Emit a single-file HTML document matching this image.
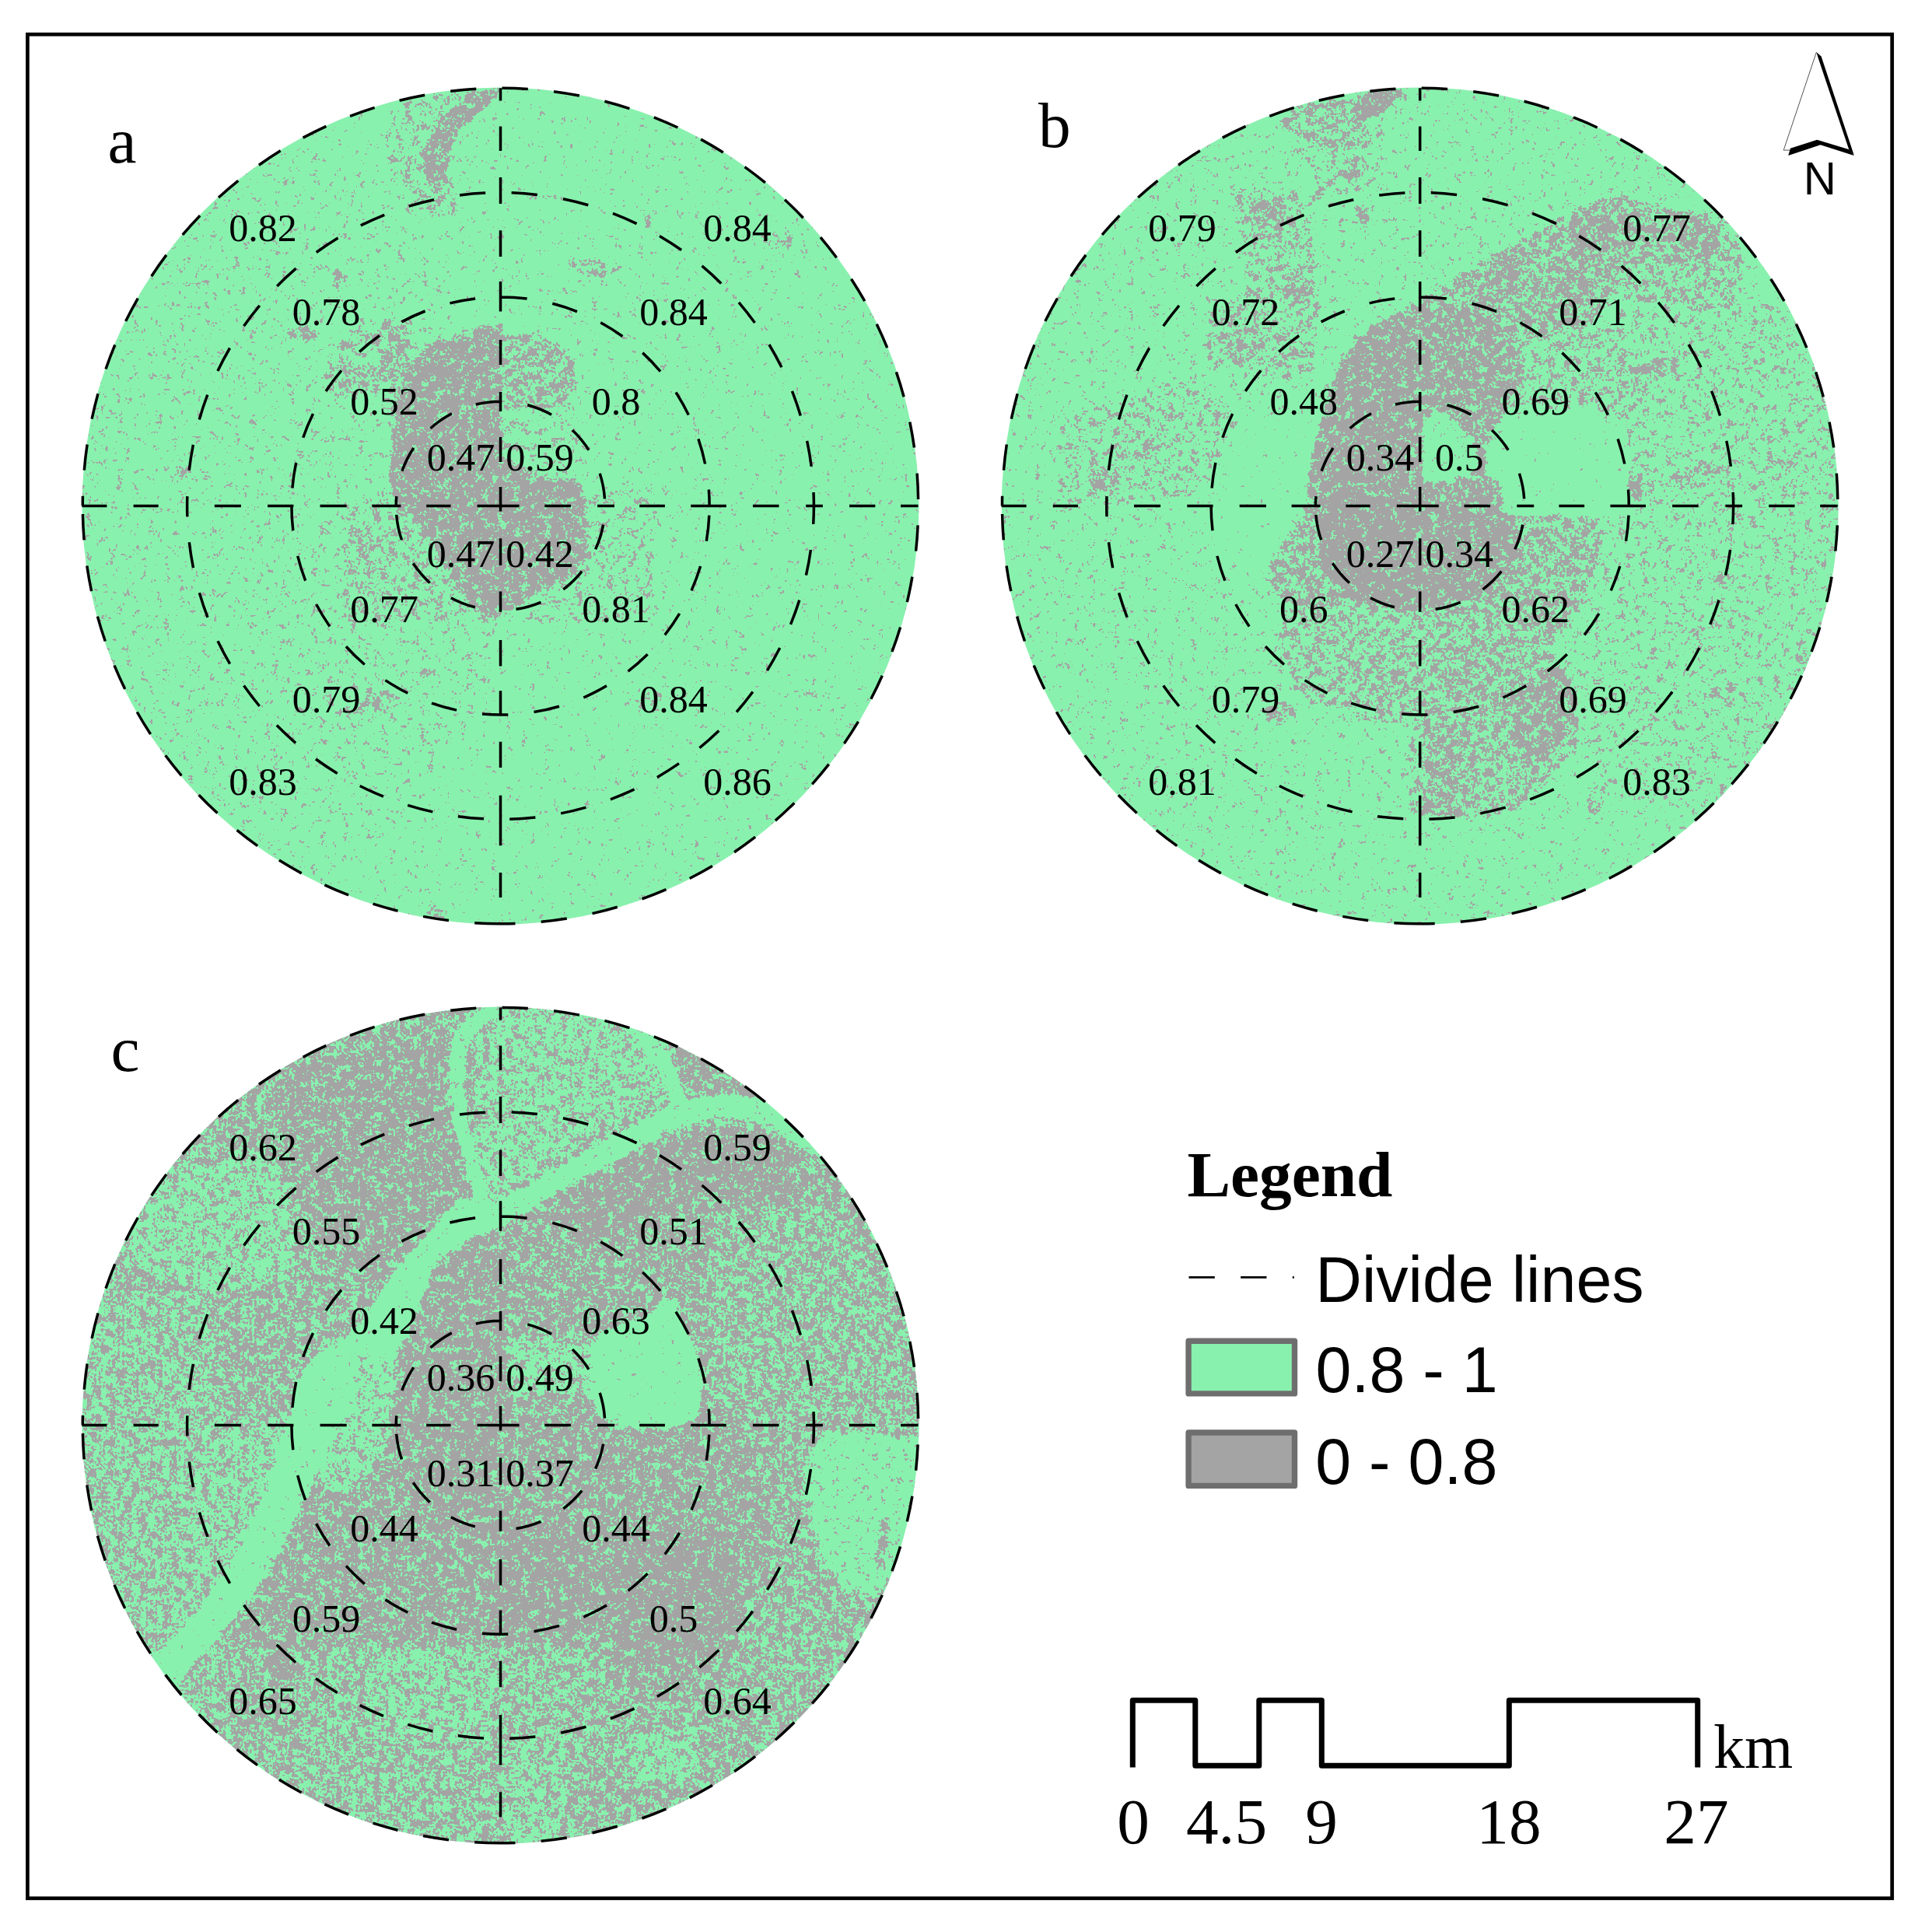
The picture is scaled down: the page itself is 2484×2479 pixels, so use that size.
<!DOCTYPE html>
<html lang="en"><head><meta charset="utf-8"><title>Index maps</title>
<style>html,body{margin:0;padding:0;background:#fff}svg{display:block}</style></head><body>
<svg width="2484" height="2479" viewBox="0 0 2484 2479">
<defs>
<clipPath id="cpa"><circle cx="643.5" cy="650.5" r="538.0"/></clipPath>
<filter id="fa" filterUnits="userSpaceOnUse" x="101.5" y="108.5" width="1084.0" height="1084.0" color-interpolation-filters="sRGB"><feGaussianBlur in="SourceGraphic" stdDeviation="2.2" result="b"/><feTurbulence type="fractalNoise" baseFrequency="0.33" numOctaves="1" seed="3" result="n1"/><feTurbulence type="fractalNoise" baseFrequency="0.1" numOctaves="2" seed="8" result="n2"/><feComposite in="n1" in2="n2" operator="arithmetic" k1="0" k2="0.5" k3="0.5" k4="0" result="n"/><feColorMatrix in="n" type="matrix" values="0 0 0 1 0  0 0 0 1 0  0 0 0 1 0  0 0 0 0 1" result="no"/><feComposite in="b" in2="no" operator="arithmetic" k1="0" k2="1" k3="1" k4="-1" result="s"/><feColorMatrix in="s" type="matrix" values="0 0 0 0 0.643  0 0 0 0 0.643  0 0 0 0 0.643  255 0 0 0 0"/></filter>
<clipPath id="cpb"><circle cx="1825.7" cy="650.5" r="538.0"/></clipPath>
<filter id="fb" filterUnits="userSpaceOnUse" x="1283.7" y="108.5" width="1084.0" height="1084.0" color-interpolation-filters="sRGB"><feGaussianBlur in="SourceGraphic" stdDeviation="2.2" result="b"/><feTurbulence type="fractalNoise" baseFrequency="0.33" numOctaves="1" seed="11" result="n1"/><feTurbulence type="fractalNoise" baseFrequency="0.1" numOctaves="2" seed="16" result="n2"/><feComposite in="n1" in2="n2" operator="arithmetic" k1="0" k2="0.5" k3="0.5" k4="0" result="n"/><feColorMatrix in="n" type="matrix" values="0 0 0 1 0  0 0 0 1 0  0 0 0 1 0  0 0 0 0 1" result="no"/><feComposite in="b" in2="no" operator="arithmetic" k1="0" k2="1" k3="1" k4="-1" result="s"/><feColorMatrix in="s" type="matrix" values="0 0 0 0 0.643  0 0 0 0 0.643  0 0 0 0 0.643  255 0 0 0 0"/></filter>
<clipPath id="cpc"><circle cx="643.5" cy="1832.6" r="538.0"/></clipPath>
<filter id="fc" filterUnits="userSpaceOnUse" x="101.5" y="1290.6" width="1084.0" height="1084.0" color-interpolation-filters="sRGB"><feGaussianBlur in="SourceGraphic" stdDeviation="2.2" result="b"/><feTurbulence type="fractalNoise" baseFrequency="0.33" numOctaves="1" seed="23" result="n1"/><feTurbulence type="fractalNoise" baseFrequency="0.1" numOctaves="2" seed="28" result="n2"/><feComposite in="n1" in2="n2" operator="arithmetic" k1="0" k2="0.5" k3="0.5" k4="0" result="n"/><feColorMatrix in="n" type="matrix" values="0 0 0 1 0  0 0 0 1 0  0 0 0 1 0  0 0 0 0 1" result="no"/><feComposite in="b" in2="no" operator="arithmetic" k1="0" k2="1" k3="1" k4="-1" result="s"/><feColorMatrix in="s" type="matrix" values="0 0 0 0 0.643  0 0 0 0 0.643  0 0 0 0 0.643  255 0 0 0 0"/></filter>
<path id="grid" d="M0 -134.3A134.3 134.3 0 0 1 1.9 -134.3M34.8 -129.7A134.3 134.3 0 0 1 65.6 -117.2M92.4 -97.5A134.3 134.3 0 0 1 113.5 -71.8M127.7 -41.7A134.3 134.3 0 0 1 134 -9.1M132.1 24.1A134.3 134.3 0 0 1 122.1 55.8M104.7 84.1A134.3 134.3 0 0 1 80.8 107.3M52 123.8A134.3 134.3 0 0 1 20 132.8M-32.7 130.3A134.3 134.3 0 0 1 -63.7 118.2M-90.8 99A134.3 134.3 0 0 1 -112.3 73.7M-127 43.8A134.3 134.3 0 0 1 -133.8 11.3M-134.3 0A134.3 134.3 0 0 1 -133.7 -12.3M-126.6 -44.8A134.3 134.3 0 0 1 -111.7 -74.5M-90 -99.7A134.3 134.3 0 0 1 -62.7 -118.7M-31.7 -130.5A134.3 134.3 0 0 1 -0 -134.3M-267.6 -22.8A268.6 268.6 0 0 1 -262.8 -55.7M-253.8 -87.8A268.6 268.6 0 0 1 -241 -118.6M-224.5 -147.5A268.6 268.6 0 0 1 -204.5 -174.1M-181.4 -198.1A268.6 268.6 0 0 1 -155.5 -219M-127.1 -236.6A268.6 268.6 0 0 1 -96.9 -250.5M-65.1 -260.6A268.6 268.6 0 0 1 -32.4 -266.6M0.9 -268.6A268.6 268.6 0 0 1 34.1 -266.4M66.8 -260.2A268.6 268.6 0 0 1 98.5 -249.9M128.7 -235.8A268.6 268.6 0 0 1 156.9 -218M182.7 -196.9A268.6 268.6 0 0 1 205.6 -172.8M225.5 -146A268.6 268.6 0 0 1 241.8 -117M254.4 -86.1A268.6 268.6 0 0 1 263.1 -54M267.8 -21A268.6 268.6 0 0 1 268.6 -0M268.3 12.1A268.6 268.6 0 0 1 264.8 45.2M257.1 77.6A268.6 268.6 0 0 1 245.5 108.9M230.2 138.4A268.6 268.6 0 0 1 211.3 165.9M189.1 190.7A268.6 268.6 0 0 1 164.1 212.7M136.5 231.3A268.6 268.6 0 0 1 106.8 246.5M75.5 257.8A268.6 268.6 0 0 1 43 265.1M9.8 268.4A268.6 268.6 0 0 1 -23.5 267.6M-56.4 262.6A268.6 268.6 0 0 1 -88.5 253.6M-119.2 240.7A268.6 268.6 0 0 1 -148.1 224.1M-174.7 204A268.6 268.6 0 0 1 -198.6 180.8M-219.5 154.9A268.6 268.6 0 0 1 -236.9 126.5M-250.8 96.2A268.6 268.6 0 0 1 -260.8 64.4M-266.7 31.7A268.6 268.6 0 0 1 -268.6 0M-402.9 0A402.9 402.9 0 0 1 -402.7 -12.4M-400.3 -45.7A402.9 402.9 0 0 1 -395.1 -78.7M-387.3 -111.1A402.9 402.9 0 0 1 -376.7 -142.8M-363.6 -173.5A402.9 402.9 0 0 1 -348 -203M-330 -231.2A402.9 402.9 0 0 1 -309.7 -257.7M-287.3 -282.5A402.9 402.9 0 0 1 -262.9 -305.3M-236.8 -326A402.9 402.9 0 0 1 -209 -344.5M-179.7 -360.6A402.9 402.9 0 0 1 -149.2 -374.2M-117.7 -385.3A402.9 402.9 0 0 1 -85.4 -393.7M-52.5 -399.5A402.9 402.9 0 0 1 -19.3 -402.4M14.1 -402.7A402.9 402.9 0 0 1 47.4 -400.1M80.4 -394.8A402.9 402.9 0 0 1 112.8 -386.8M144.4 -376.1A402.9 402.9 0 0 1 175.1 -362.9M204.5 -347.1A402.9 402.9 0 0 1 232.6 -329M259 -308.6A402.9 402.9 0 0 1 283.7 -286.1M306.4 -261.6A402.9 402.9 0 0 1 327 -235.4M345.4 -207.5A402.9 402.9 0 0 1 361.4 -178.2M374.9 -147.6A402.9 402.9 0 0 1 385.8 -116.1M394.1 -83.7A402.9 402.9 0 0 1 399.7 -50.8M402.5 -17.5A402.9 402.9 0 0 1 402.9 -0M402.9 -0A402.9 402.9 0 0 1 402.2 23.5M398.9 56.4A402.9 402.9 0 0 1 392.9 89.2M384.3 121.1A402.9 402.9 0 0 1 373 152.4M359.2 182.5A402.9 402.9 0 0 1 342.9 211.6M324.4 239A402.9 402.9 0 0 1 303.5 265M280.8 289A402.9 402.9 0 0 1 255.9 311.2M229.5 331.1A402.9 402.9 0 0 1 201.4 348.9M172.1 364.3A402.9 402.9 0 0 1 141.4 377.3M110 387.6A402.9 402.9 0 0 1 77.6 395.4M44.9 400.4A402.9 402.9 0 0 1 11.7 402.7M-21.4 402.3A402.9 402.9 0 0 1 -54.6 399.2M-87.1 393.4A402.9 402.9 0 0 1 -119.3 384.8M-150.5 373.7A402.9 402.9 0 0 1 -180.8 360M-209.8 344A402.9 402.9 0 0 1 -237.5 325.5M-263.4 304.9A402.9 402.9 0 0 1 -287.7 282.1M-309.8 257.5A402.9 402.9 0 0 1 -330 231.1M-347.9 203.2A402.9 402.9 0 0 1 -363.5 173.8M-376.5 143.4A402.9 402.9 0 0 1 -387.1 111.8M-395 79.6A402.9 402.9 0 0 1 -400.2 46.8M-402.7 13.8A402.9 402.9 0 0 1 -402.9 0M2 -537.2A537.2 537.2 0 0 1 35.3 -536M68.5 -532.8A537.2 537.2 0 0 1 101.4 -527.5M133.9 -520.2A537.2 537.2 0 0 1 165.9 -510.9M197.3 -499.7A537.2 537.2 0 0 1 227.9 -486.5M257.6 -471.4A537.2 537.2 0 0 1 286.3 -454.5M314 -435.9A537.2 537.2 0 0 1 340.4 -415.6M365.5 -393.7A537.2 537.2 0 0 1 389.2 -370.3M411.4 -345.4A537.2 537.2 0 0 1 432.1 -319.2M451 -291.8A537.2 537.2 0 0 1 468.3 -263.3M483.7 -233.7A537.2 537.2 0 0 1 497.2 -203.3M508.9 -172.1A537.2 537.2 0 0 1 518.6 -140.2M526.3 -107.8A537.2 537.2 0 0 1 532 -74.9M535.6 -41.8A537.2 537.2 0 0 1 537.1 -8.5M536.6 24.8A537.2 537.2 0 0 1 534.1 58.1M529.4 91.1A537.2 537.2 0 0 1 522.8 123.7M514.1 155.9A537.2 537.2 0 0 1 503.4 187.5M490.8 218.3A537.2 537.2 0 0 1 476.3 248.3M460 277.4A537.2 537.2 0 0 1 441.9 305.4M422.2 332.2A537.2 537.2 0 0 1 400.7 357.8M377.8 381.9A537.2 537.2 0 0 1 353.4 404.6M327.6 425.7A537.2 537.2 0 0 1 300.6 445.2M272.4 463A537.2 537.2 0 0 1 243.2 479M213 493.2A537.2 537.2 0 0 1 182 505.4M150.3 515.7A537.2 537.2 0 0 1 118 524.1M85.3 530.4A537.2 537.2 0 0 1 52.2 534.7M19 536.9A537.2 537.2 0 0 1 0 537.2M0 537.2A537.2 537.2 0 0 1 -33.3 536.2M-66.5 533.1A537.2 537.2 0 0 1 -99.4 527.9M-132 520.7A537.2 537.2 0 0 1 -164 511.6M-195.4 500.4A537.2 537.2 0 0 1 -226.1 487.3M-255.8 472.4A537.2 537.2 0 0 1 -284.6 455.6M-312.4 437.1A537.2 537.2 0 0 1 -338.9 416.8M-364 395A537.2 537.2 0 0 1 -387.8 371.7M-410.1 346.9A537.2 537.2 0 0 1 -430.9 320.8M-449.9 293.5A537.2 537.2 0 0 1 -467.3 265M-482.8 235.5A537.2 537.2 0 0 1 -496.5 205.2M-508.2 174A537.2 537.2 0 0 1 -518.1 142.1M-525.9 109.7A537.2 537.2 0 0 1 -531.7 76.9M-535.4 43.8A537.2 537.2 0 0 1 -537.1 10.5M-537.2 0A537.2 537.2 0 0 1 -537.1 -12.7M-535.2 -45.9A537.2 537.2 0 0 1 -531.4 -79M-525.4 -111.8A537.2 537.2 0 0 1 -517.5 -144.2M-507.5 -176A537.2 537.2 0 0 1 -495.7 -207.2M-481.9 -237.5A537.2 537.2 0 0 1 -466.2 -266.9M-448.8 -295.3A537.2 537.2 0 0 1 -429.6 -322.6M-408.7 -348.6A537.2 537.2 0 0 1 -386.3 -373.3M-362.5 -396.5A537.2 537.2 0 0 1 -337.2 -418.2M-310.6 -438.3A537.2 537.2 0 0 1 -282.8 -456.7M-253.9 -473.4A537.2 537.2 0 0 1 -224.1 -488.2M-193.4 -501.2A537.2 537.2 0 0 1 -161.9 -512.2M-129.9 -521.3A537.2 537.2 0 0 1 -97.3 -528.3M-64.3 -533.3A537.2 537.2 0 0 1 -31.2 -536.3M0 -537.2V-521M0 -488.1V-456.5M0 -422.5V-388.5M0 -354.2V-320.6M0 -288.4V-249.9M0 -213.5V-181.5M0 -146.5V-121.5M0 -88.5V-56.5M0 -24.5V6.9M0 41.8V76.6M0 110V136.2M0 172.5V205.9M0 237.8V269.8M0 303.2V336.6M0 372.3V436.8M0 471.6V503.6M-29.9 0H24.1M56.8 0H90.4M124.6 0H146.5M178.7 0H211.4M244.7 0H290.3M324.4 0H358M392.7 0H414.4M448.5 0H481.8M514.5 0H537M-538 0H-506.1M-471.9 0H-439.8M-367.7 0H-333.6M-299.4 0H-266.1M-232 0H-197.8M-165.1 0H-128.1M-95.3 0H-64" fill="none" stroke="#000" stroke-width="3.5"/>
</defs>
<rect width="2484" height="2479" fill="#fff"/>
<g id="map-a">
<circle cx="643.5" cy="650.5" r="538.0" fill="#89f1ae"/>
<g clip-path="url(#cpa)"><g filter="url(#fa)">
<rect x="85.5" y="92.5" width="1116.0" height="1116.0" fill="rgb(89,89,89)"/>
<ellipse cx="366.9" cy="670.5" rx="268.2" ry="467.8" fill="rgb(95,95,95)"/>
<ellipse cx="492.4" cy="813.2" rx="148.3" ry="171.2" fill="rgb(99,99,99)"/>
<polygon points="515.6,131.5 575.8,114.9 615.2,114.5 588.2,131.5 555,173 540.5,224.9 559.2,239.4 579.9,235.2 588.2,276.7 526,276.7 494.9,214.5 494.9,162.6" fill="rgb(110,110,110)"/>
<polygon points="615.2,114.5 642.2,114.5 642.2,123.2 629.7,135.6 609,150.2 592.4,168.8 579.9,189.6 575.8,214.5 579.9,235.2 559.2,239.4 540.5,224.9 542.6,197.9 555,173 567.5,152.2 588.2,131.5" fill="rgb(145,145,145)"/>
<polygon points="540.5,235.2 584.1,235.2 588.2,268.4 559.2,276.7 532.2,264.3" fill="rgb(117,117,117)"/>
<ellipse cx="466.7" cy="468" rx="57.1" ry="37.1" fill="rgb(120,120,120)" transform="rotate(-35 466.7 468)"/>
<ellipse cx="467.7" cy="459.2" rx="37.8" ry="34.9" fill="rgb(125,125,125)"/>
<ellipse cx="467.7" cy="459.2" rx="20.3" ry="17.4" fill="rgb(103,103,103)"/>
<ellipse cx="386.3" cy="430.2" rx="17.4" ry="7.3" fill="rgb(138,138,138)"/>
<ellipse cx="435.7" cy="357.6" rx="11.6" ry="11.6" fill="rgb(120,120,120)"/>
<polygon points="499.6,421.5 528.7,407 528.7,537.7 499.6,537.7" fill="rgb(128,128,128)"/>
<polygon points="443,649 505.2,638.6 559.2,700.8 604.8,773.4 640.1,800 443,800" fill="rgb(114,114,114)"/>
<polygon points="443,680.1 494.9,680.1 505.2,721.6 484.5,752.7 443,752.7" fill="rgb(120,120,120)"/>
<polygon points="754.2,628.2 843,628.2 843,800 671.2,800 712.7,752.7 743.8,736.1" fill="rgb(108,108,108)"/>
<polygon points="647.4,431.1 692,427 733.5,451.9 743.8,493.4 729.3,524.5 660.8,526.6 647.4,528.6" fill="rgb(128,128,128)"/>
<polygon points="647.4,530.7 733.5,528.6 750.1,566 748,611.6 712.7,617.8 681.6,607.5 660.8,597.1 647.4,586.7" fill="rgb(106,106,106)"/>
<polyline points="496.9,418.7 505.2,451.9 484.5,478.8 449.2,487.1" fill="none" stroke="rgb(133,133,133)" stroke-width="14.5" stroke-linejoin="round" stroke-linecap="round"/>
<polygon points="643.2,416.6 621.4,418.7 598.6,429 567.5,435.3 542.6,447.7 526,472.6 521.8,493.4 511.5,524.5 505.2,555.6 503.2,586.7 501.1,617.8 505.2,638.6 521.8,659.3 542.6,680.1 559.2,700.8 571.6,723.7 588.2,752.7 604.8,773.4 621.4,790 640.1,794.2 660.8,783.8 681.6,769.3 712.7,752.7 743.8,736.1 758.4,711.2 750.1,680.1 754.2,649 748,624.1 733.5,611.6 712.7,617.8 681.6,607.5 660.8,597.1 647.4,586.7 645.3,528.6 645.3,416.6" fill="rgb(147,147,147)"/>
<ellipse cx="834.7" cy="283.7" rx="8.6" ry="7.4" fill="rgb(133,133,133)"/>
<ellipse cx="763.4" cy="345.3" rx="31.4" ry="10.3" fill="rgb(130,130,130)" transform="rotate(10 763.4 345.3)"/>
<ellipse cx="1000.2" cy="308.3" rx="20" ry="11.4" fill="rgb(120,120,120)"/>
<ellipse cx="977.3" cy="345.3" rx="8" ry="6.8" fill="rgb(117,117,117)"/>
<ellipse cx="235.6" cy="604.9" rx="12.6" ry="10.3" fill="rgb(128,128,128)"/>
<ellipse cx="486.7" cy="901.6" rx="22.8" ry="16" fill="rgb(125,125,125)"/>
<ellipse cx="452.4" cy="915.9" rx="17.1" ry="11.4" fill="rgb(117,117,117)"/>
<ellipse cx="549.4" cy="864.5" rx="6.8" ry="6.8" fill="rgb(123,123,123)"/>
<ellipse cx="829" cy="898.8" rx="22.8" ry="14.3" fill="rgb(114,114,114)"/>
<ellipse cx="1040.1" cy="890.2" rx="10.3" ry="5.7" fill="rgb(128,128,128)"/>
<ellipse cx="560.8" cy="1175.5" rx="14.3" ry="10.3" fill="rgb(123,123,123)"/>
<ellipse cx="389.7" cy="428.1" rx="20" ry="8.6" fill="rgb(133,133,133)"/>
<ellipse cx="914.6" cy="616.3" rx="4.6" ry="4.6" fill="rgb(128,128,128)"/>
</g></g>
<use href="#grid" x="643.5" y="650.5"/>
<g font-family="'Liberation Serif',serif" font-size="50" text-anchor="middle" fill="#000"><text x="337.9" y="309.8">0.82</text><text x="947.9" y="309.8">0.84</text><text x="337.9" y="1021.7">0.83</text><text x="947.9" y="1021.7">0.86</text><text x="419.4" y="418.3">0.78</text><text x="865.9" y="418.3">0.84</text><text x="419.4" y="916">0.79</text><text x="865.9" y="916">0.84</text><text x="494" y="532.8">0.52</text><text x="792" y="532.8">0.8</text><text x="494" y="799.9">0.77</text><text x="792" y="799.9">0.81</text><text x="592.4" y="605.4">0.47</text><text x="694.1" y="605.4">0.59</text><text x="592.4" y="728.8">0.47</text><text x="694.1" y="728.8">0.42</text></g>
</g>
<g id="map-b">
<circle cx="1825.7" cy="650.5" r="538.0" fill="#89f1ae"/>
<g clip-path="url(#cpb)"><g filter="url(#fb)">
<rect x="1267.7" y="92.5" width="1116.0" height="1116.0" fill="rgb(93,93,93)"/>
<ellipse cx="2130.8" cy="670.5" rx="239.6" ry="342.3" fill="rgb(101,101,101)"/>
<polygon points="2076.4,392.4 2352.3,392.4 2366.8,653.8 2090.9,653.8 2090.9,537.7" fill="rgb(107,107,107)"/>
<polygon points="2061.9,651.6 2366.8,651.6 2337.8,901.4 2192.6,1046.6 2047.4,1017.6 2032.8,930.4 2061.9,785.2" fill="rgb(104,104,104)"/>
<polygon points="1652.6,145.6 1768.8,116.5 1783.3,241.4 1710.7,253 1675.8,224" fill="rgb(107,107,107)"/>
<polygon points="1670,135.8 1740,123.3 1752.5,126.5 1740,138.9 1747.8,156 1763.4,170 1755.6,193.4 1708.9,196.5 1670,177.8 1638.9,162.2" fill="rgb(125,125,125)"/>
<polygon points="1763.4,114.8 1811.6,114.8 1794.5,131.1 1771.2,151.3 1747.8,156 1740,138.9 1752.5,126.5" fill="rgb(149,149,149)"/>
<ellipse cx="1736.9" cy="216.7" rx="13.2" ry="16.3" fill="rgb(133,133,133)"/>
<polyline points="1712,224.5 1705.8,243.1 1690.2,255.6" fill="none" stroke="rgb(125,125,125)" stroke-width="10.9" stroke-linejoin="round" stroke-linecap="round"/>
<ellipse cx="1753.3" cy="277.4" rx="7.8" ry="12.4" fill="rgb(155,155,155)"/>
<polygon points="1580,241.4 1667.1,241.4 1696.1,334.4 1696.1,407 1687.4,479.6 1638.1,488.3 1550.9,465.1 1550.9,407 1609,363.4 1594.5,305.3" fill="rgb(117,117,117)"/>
<ellipse cx="1632.2" cy="276.3" rx="31.9" ry="20.3" fill="rgb(136,136,136)" transform="rotate(20 1632.2 276.3)"/>
<ellipse cx="1670" cy="372.1" rx="17.4" ry="26.1" fill="rgb(130,130,130)" transform="rotate(-25 1670 372.1)"/>
<ellipse cx="1591.6" cy="441.8" rx="31.9" ry="20.3" fill="rgb(130,130,130)" transform="rotate(10 1591.6 441.8)"/>
<ellipse cx="1658.4" cy="465.1" rx="26.1" ry="14.5" fill="rgb(125,125,125)"/>
<polygon points="1362.1,537.7 1536.4,479.6 1594.5,537.7 1536.4,639.3 1362.1,653.8" fill="rgb(111,111,111)"/>
<ellipse cx="1417.3" cy="619" rx="16" ry="13.1" fill="rgb(142,142,142)"/>
<ellipse cx="1463.8" cy="581.2" rx="34.9" ry="17.4" fill="rgb(120,120,120)" transform="rotate(-30 1463.8 581.2)"/>
<ellipse cx="1495.7" cy="537.7" rx="26.1" ry="11.6" fill="rgb(117,117,117)" transform="rotate(-20 1495.7 537.7)"/>
<polygon points="2061.9,319.8 2134.5,276.3 2221.6,282.1 2244.9,334.4 2236.1,392.4 2134.5,392.4 2076.4,377.9" fill="rgb(120,120,120)"/>
<polygon points="1826.6,386.6 1858.6,363.4 1902.1,334.4 1945.7,314 1989.3,290.8 2024.1,267.6 2053.2,255.9 2090.9,253 2134.5,264.6 2178.1,273.4 2215.8,282.1 2221.6,322.7 2178.1,340.2 2134.5,334.4 2090.9,348.9 2061.9,392.4 2032.8,436 1989.3,465.1 1945.7,523.1 1826.6,523.1" fill="rgb(130,130,130)"/>
<ellipse cx="1935.5" cy="354.7" rx="20.3" ry="23.2" fill="rgb(142,142,142)"/>
<ellipse cx="2021.2" cy="369.2" rx="18.9" ry="23.2" fill="rgb(142,142,142)"/>
<ellipse cx="2047.4" cy="299.5" rx="29" ry="34.9" fill="rgb(142,142,142)" transform="rotate(30 2047.4 299.5)"/>
<ellipse cx="2178.1" cy="305.3" rx="31.9" ry="29" fill="rgb(138,138,138)"/>
<ellipse cx="2198.4" cy="380.8" rx="34.9" ry="17.4" fill="rgb(120,120,120)" transform="rotate(-30 2198.4 380.8)"/>
<polygon points="1945.7,436 2076.4,421.5 2120,508.6 2090.9,537.7 1945.7,531.9" fill="rgb(117,117,117)"/>
<ellipse cx="2128.7" cy="473.8" rx="31.9" ry="13.1" fill="rgb(136,136,136)" transform="rotate(-12 2128.7 473.8)"/>
<ellipse cx="2082.2" cy="491.2" rx="23.2" ry="14.5" fill="rgb(123,123,123)"/>
<ellipse cx="2105.4" cy="624.8" rx="14.5" ry="16" fill="rgb(138,138,138)"/>
<ellipse cx="2186.8" cy="610.3" rx="40.7" ry="14.5" fill="rgb(123,123,123)" transform="rotate(-10 2186.8 610.3)"/>
<ellipse cx="2294.2" cy="595.8" rx="17.4" ry="14.5" fill="rgb(123,123,123)"/>
<ellipse cx="1942.8" cy="257.4" rx="6.4" ry="7.6" fill="rgb(128,128,128)"/>
<polygon points="1826.8,393.9 1796.3,402.6 1765.9,417.1 1742,441.2 1721.4,470.9 1706.6,506.3 1692.1,542 1683.4,580.7 1677.6,619 1671.7,662 1835,662 1835,393.9" fill="rgb(149,149,149)"/>
<polygon points="1815,392.4 1902.1,398.3 1945.7,436 1954.4,479.6 1939.9,523.1 1910.8,566.7 1910.8,610.3 1931.2,624.8 1937,662 1815,662" fill="rgb(142,142,142)"/>
<polygon points="1681.6,640 1667.1,669 1646.8,698.1 1632.2,727.1 1629.3,762 1681.6,785.2 1739.7,779.4 1783.3,785.2 1835,791 1835,640" fill="rgb(130,130,130)"/>
<polygon points="1696.1,640 1693.2,683.6 1702,735.8 1739.7,770.7 1783.3,779.4 1835,782.3 1835,640" fill="rgb(155,155,155)"/>
<polygon points="1815,640 2047.4,651.6 2061.9,698.1 2047.4,756.2 2018.3,799.7 1989.3,828.8 1902.1,785.2 1815,791" fill="rgb(128,128,128)"/>
<polygon points="1815,640 1945.7,650.7 1954.4,698.1 1937,741.7 1902.1,770.7 1858.6,785.2 1815,791" fill="rgb(149,149,149)"/>
<polygon points="1652.6,779.4 1835,785.2 1835,930.4 1768.8,930.4 1681.6,901.4 1638.1,843.3" fill="rgb(120,120,120)"/>
<ellipse cx="1771.7" cy="872.4" rx="31.9" ry="31.9" fill="rgb(128,128,128)"/>
<ellipse cx="1643.9" cy="915.9" rx="20.3" ry="13.1" fill="rgb(136,136,136)"/>
<polygon points="1815,785.2 1902.1,770.7 1989.3,828.8 2024.1,872.4 2029.9,930.4 2018.3,974 1989.3,1003.1 1945.7,1046.6 1902.1,1052.4 1815,1046.6" fill="rgb(124,124,124)"/>
<ellipse cx="1983.5" cy="918.8" rx="37.8" ry="63.9" fill="rgb(140,140,140)" transform="rotate(20 1983.5 918.8)"/>
<ellipse cx="1902.1" cy="878.2" rx="43.6" ry="52.3" fill="rgb(129,129,129)"/>
<polygon points="1815,930.4 1881.8,930.4 1896.3,988.5 1867.3,1046.6 1815,1046.6" fill="rgb(133,133,133)"/>
<ellipse cx="2053.2" cy="1032.1" rx="13.1" ry="14.5" fill="rgb(123,123,123)"/>
<ellipse cx="1822.5" cy="988.5" rx="13.1" ry="66.8" fill="rgb(117,117,117)"/>
<ellipse cx="1829.7" cy="1032.1" rx="5.8" ry="17.4" fill="rgb(133,133,133)"/>
<polygon points="1829.5,537.7 1855.7,529 1896.3,566.7 1899.2,604.5 1870.2,619 1829.5,619" fill="rgb(92,92,92)"/>
<polygon points="1939.9,537.7 1966,526 2047.4,523.1 2090.9,566.7 2093.8,662 1937,662 1931.2,624.8 1910.8,610.3 1913.8,572.5" fill="rgb(78,78,78)"/>
<polygon points="1937,640 2093.8,640 2088,651.6 1939.9,650.7" fill="rgb(78,78,78)"/>
<polygon points="1594.5,537.7 1681.6,537.7 1710.7,508.6 1696.1,543.5 1687.4,581.2 1681.6,619 1675.8,662 1565.4,662" fill="rgb(80,80,80)"/>
<polygon points="1565.4,640 1681.6,640 1667.1,669 1646.8,698.1 1632.2,727.1 1609,741.7 1565.4,698.1" fill="rgb(80,80,80)"/>
<ellipse cx="2211.5" cy="741.7" rx="10.2" ry="8.7" fill="rgb(138,138,138)"/>
<ellipse cx="2182.4" cy="811.4" rx="10.2" ry="8.7" fill="rgb(138,138,138)"/>
<ellipse cx="2221.6" cy="891.2" rx="23.2" ry="11.6" fill="rgb(123,123,123)"/>
<ellipse cx="2316" cy="843.3" rx="7.3" ry="29" fill="rgb(123,123,123)"/>
<ellipse cx="2114.2" cy="889.8" rx="8.7" ry="6.4" fill="rgb(128,128,128)"/>
<ellipse cx="1744.1" cy="1191.8" rx="8.7" ry="8.7" fill="rgb(128,128,128)"/>
</g></g>
<use href="#grid" x="1825.7" y="650.5"/>
<g font-family="'Liberation Serif',serif" font-size="50" text-anchor="middle" fill="#000"><text x="1520" y="309.8">0.79</text><text x="2130.1" y="309.8">0.77</text><text x="1520" y="1021.7">0.81</text><text x="2130.1" y="1021.7">0.83</text><text x="1601.5" y="418.3">0.72</text><text x="2048.1" y="418.3">0.71</text><text x="1601.5" y="916">0.79</text><text x="2048.1" y="916">0.69</text><text x="1676.2" y="532.8">0.48</text><text x="1974.2" y="532.8">0.69</text><text x="1676.2" y="799.9">0.6</text><text x="1974.2" y="799.9">0.62</text><text x="1774.6" y="605.4">0.34</text><text x="1876.2" y="605.4">0.5</text><text x="1774.6" y="728.8">0.27</text><text x="1876.2" y="728.8">0.34</text></g>
</g>
<g id="map-c">
<circle cx="643.5" cy="1832.6" r="538.0" fill="#89f1ae"/>
<g clip-path="url(#cpc)"><g filter="url(#fc)">
<rect x="85.5" y="1274.6" width="1116.0" height="1116.0" fill="rgb(128,128,128)"/>
<polygon points="180.1,1313 653,1284 653,1574.4 528.7,1626.7 447.3,1705.1 383.4,1792.3 377.6,1844 93,1844 93,1545.4" fill="rgb(133,133,133)"/>
<polygon points="354.4,1371.1 572.2,1327.6 586.8,1443.7 610,1545.4 557.7,1589 485.1,1647.1 412.5,1603.5 368.9,1487.3" fill="rgb(143,143,143)"/>
<polygon points="194.7,1501.8 354.4,1487.3 383.4,1574.4 368.9,1647.1 267.3,1661.6 180.1,1632.5 151.1,1574.4" fill="rgb(117,117,117)"/>
<polygon points="93,1661.6 267.3,1661.6 281.8,1844 93,1844" fill="rgb(125,125,125)"/>
<polygon points="267.3,1661.6 383.4,1661.6 412.5,1719.7 383.4,1792.3 377.6,1844 281.8,1844" fill="rgb(134,134,134)"/>
<polygon points="615.8,1327.6 653,1313 653,1559.9 630.3,1568.6 615.8,1516.4 610,1429.2" fill="rgb(120,120,120)"/>
<polygon points="633,1295.6 778.2,1307.2 836.3,1336.3 853.7,1400.2 836.3,1420.5 749.2,1464.1 662,1530.9 633,1545.4" fill="rgb(117,117,117)"/>
<polygon points="662,1530.9 749.2,1464.1 836.3,1420.5 853.7,1400.2 865.4,1420.5 778.2,1481.5 691.1,1545.4 644.6,1574.4" fill="rgb(130,130,130)" stroke="rgb(130,130,130)" stroke-width="8.7" stroke-linejoin="round"/>
<polygon points="865.4,1342.1 923.4,1356.6 996.1,1414.7 1025.1,1446.6 967,1420.5 923.4,1411.8 879.9,1414.7 853.7,1371.1" fill="rgb(142,142,142)"/>
<polygon points="633,1589 720.1,1530.9 807.3,1481.5 894.4,1446.6 967,1446.6 1025.1,1469.9 1083.2,1530.9 1141.3,1632.5 1173.2,1748.7 1184.8,1844 633,1844" fill="rgb(138,138,138)"/>
<polygon points="705.6,1545.4 807.3,1487.3 894.4,1458.3 967,1458.3 1025.1,1487.3 1010.6,1545.4 923.4,1530.9 836.3,1559.9 749.2,1603.5" fill="rgb(148,148,148)"/>
<polygon points="923.4,1559.9 1068.7,1545.4 1155.8,1661.6 1179,1835.8 923.4,1835.8 908.9,1719.7" fill="rgb(129,129,129)"/>
<polygon points="647.5,1719.7 755,1719.7 760.8,1792.3 647.5,1792.3" fill="rgb(117,117,117)"/>
<polygon points="93,1822 377.6,1822 331.2,1944 267.3,2054.4 197.6,2135.7 93,2141.5" fill="rgb(125,125,125)"/>
<polygon points="252.7,1836.5 368.9,1836.5 331.2,1944 281.8,2031.1 238.2,2025.3" fill="rgb(120,120,120)"/>
<polygon points="421.2,1822 653,1822 653,2112.4 470.6,2112.4 354.4,2127 281.8,2103.7 354.4,2002.1 406.7,1880.1" fill="rgb(141,141,141)"/>
<polygon points="528.7,1822 653,1822 653,1967.2 557.7,1961.4" fill="rgb(148,148,148)"/>
<polygon points="244,2141.5 281.8,2103.7 354.4,2127 470.6,2112.4 653,2112.4 653,2382 354.4,2382 267.3,2257.7" fill="rgb(128,128,128)"/>
<polygon points="485.1,2127 653,2118.3 653,2243.1 528.7,2243.1 470.6,2199.6" fill="rgb(120,120,120)"/>
<ellipse cx="360.2" cy="2141.5" rx="23.2" ry="16" fill="rgb(153,153,153)" transform="rotate(30 360.2 2141.5)"/>
<polygon points="281.8,2156 383.4,2156 383.4,2243.1 310.8,2243.1" fill="rgb(134,134,134)"/>
<polygon points="633,1822 1193,1822 1193,2382 633,2382" fill="rgb(133,133,133)"/>
<polygon points="633,1822 952.5,1822 996.1,1967.2 967,2112.4 865.4,2185.1 633,2141.5" fill="rgb(141,141,141)"/>
<polygon points="633,1952.7 749.2,1961.4 763.7,2054.4 734.7,2112.4 633,2112.4" fill="rgb(148,148,148)"/>
<ellipse cx="865.4" cy="2054.4" rx="90" ry="87.1" fill="rgb(150,150,150)"/>
<polygon points="633,2112.4 778.2,2112.4 792.7,2257.7 633,2257.7" fill="rgb(128,128,128)"/>
<polygon points="807.3,2228.6 894.4,2222.8 900.2,2286.7 813.1,2292.5" fill="rgb(117,117,117)"/>
<polygon points="952.5,2054.4 1068.7,2054.4 1068.7,2228.6 952.5,2228.6" fill="rgb(130,130,130)"/>
<polygon points="641.7,2228.6 725.9,2228.6 728.8,2344.8 641.7,2344.8" fill="rgb(122,122,122)"/>
<polygon points="662,2341.9 720.1,2341.9 720.1,2382 662,2382" fill="rgb(114,114,114)"/>
<polygon points="547.5,1650.9 570.8,1612 601.9,1593.3 653,1573.1 653,1842 500.8,1842 508.6,1775.4 508.6,1744.3 524.2,1713.2 536.6,1689.8" fill="rgb(145,145,145)"/>
<polygon points="368.6,1844 381.1,1775.4 404.4,1744.4 446.5,1720.8 477.5,1681.9 508.6,1635.4 531.9,1607.3 555.4,1580.8 578.6,1554.4 592.6,1542.5 653,1545.4 653,1573 632.9,1580.8 601.9,1593.3 570.8,1611.9 547.5,1650.8 536.5,1689.8 524,1713.3 508.6,1744.4 508.6,1775.4 505.4,1806.5 500.8,1844" fill="rgb(83,83,83)"/>
<ellipse cx="468.1" cy="1750.5" rx="7" ry="10.1" fill="rgb(128,128,128)"/>
<polygon points="459,1754.5 508.6,1748.7 505.4,1806.5 500.8,1844 444.4,1844" fill="rgb(111,111,111)"/>
<polyline points="624.5,1577.3 615.8,1530.9 604.2,1487.3 592.6,1443.7 586.8,1400.2 586.8,1356.6 604.2,1318.9 633.2,1298.5" fill="none" stroke="rgb(86,86,86)" stroke-width="18" stroke-linejoin="round" stroke-linecap="round"/>
<polyline points="627.2,1570.1 644.6,1558.5 676.6,1541 720.1,1515.8 763.7,1490.8 807.3,1467 850.8,1442.3 894.4,1426.3 938,1420.5 981.5,1427.8 1019.3,1449.6 1045.4,1469.9" fill="none" stroke="rgb(83,83,83)" stroke-width="27.6" stroke-linejoin="round" stroke-linecap="round"/>
<polyline points="874.1,1420.5 862.5,1385.7 845,1350.8 821.8,1321.8" fill="none" stroke="rgb(89,89,89)" stroke-width="20.3" stroke-linejoin="round" stroke-linecap="round"/>
<polygon points="755,1737.1 772.4,1713.9 807.3,1699.3 836.3,1690.6 847.9,1673.2 871.2,1673.2 877,1705.1 894.4,1734.2 903.1,1777.8 894.4,1821.3 865.4,1835.8 807.3,1835.8 772.4,1821.3 757.9,1792.3 760.8,1760.3" fill="rgb(82,82,82)"/>
<polygon points="371.8,1822 354.4,1880.1 331.2,1944 302.1,2002.1 267.3,2054.4 229.5,2100.8 180.1,2147.3 220.8,2182.2 244,2141.5 281.8,2103.7 322.5,2054.4 354.4,2002.1 386.3,1938.2 415.4,1880.1 441.5,1822" fill="rgb(83,83,83)"/>
<polygon points="441.5,1822 500.8,1822 493.8,1865.6 456.1,1917.8 412.5,1917.8 415.4,1880.1" fill="rgb(114,114,114)"/>
<polygon points="1054.1,1851 1097.7,1839.4 1193,1851 1193,1923.7 1155.8,1996.3 1126.8,2054.4 1083.2,2039.8 1054.1,1996.3 1039.6,1938.2 1033.8,1894.6" fill="rgb(95,95,95)"/>
<ellipse cx="1134" cy="1984.6" rx="7.3" ry="34.9" fill="rgb(138,138,138)" transform="rotate(10 1134 1984.6)"/>
</g></g>
<use href="#grid" x="643.5" y="1832.6"/>
<g font-family="'Liberation Serif',serif" font-size="50" text-anchor="middle" fill="#000"><text x="337.9" y="1491.9">0.62</text><text x="947.9" y="1491.9">0.59</text><text x="337.9" y="2203.8">0.65</text><text x="947.9" y="2203.8">0.64</text><text x="419.4" y="1600.4">0.55</text><text x="865.9" y="1600.4">0.51</text><text x="419.4" y="2098.1">0.59</text><text x="865.9" y="2098.1">0.5</text><text x="494" y="1714.9">0.42</text><text x="792" y="1714.9">0.63</text><text x="494" y="1982">0.44</text><text x="792" y="1982">0.44</text><text x="592.4" y="1787.5">0.36</text><text x="694.1" y="1787.5">0.49</text><text x="592.4" y="1910.9">0.31</text><text x="694.1" y="1910.9">0.37</text></g>
</g>
<rect x="35.4" y="44.2" width="2397.3" height="2396.6" fill="none" stroke="#000" stroke-width="4.7"/>
<g font-family="'Liberation Serif',serif" font-size="83.3" fill="#000"><text x="138.6" y="209">a</text><text x="1335" y="189">b</text><text x="142.5" y="1377">c</text></g>
<g id="north"><path d="M2293.2 193.1L2335.4 67.1" stroke="#555" stroke-width="1" fill="none"/><path d="M2335.4 67.1L2341.6 72.4L2383.9 199.9L2377.3 192.5L2338.2 76.3Z" fill="#000"/><path d="M2299.2 199.9L2301.9 190.7L2336.2 179.8L2377.6 192.3L2383.6 199.9L2340.6 186.3Z" fill="#000"/><path d="M2293.2 193.1L2301 193.1" stroke="#555" stroke-width="1" fill="none"/><text x="2339.7" y="250" font-family="'Liberation Sans',sans-serif" font-size="58.3" text-anchor="middle" fill="#000">N</text></g>
<g id="legend"><text x="1526.5" y="1537.6" font-family="'Liberation Serif',serif" font-weight="bold" font-size="83.3" fill="#000">Legend</text><path d="M1528.5 1642.4H1663.8" stroke="#000" stroke-width="2.6" stroke-dasharray="33.33 33.33" fill="none"/><g font-family="'Liberation Sans',sans-serif" font-size="82.6" fill="#000"><text x="1691.3" y="1674">Divide lines</text><text x="1691.5" y="1789.6">0.8 - 1</text><text x="1691.2" y="1907.8">0 - 0.8</text></g><rect x="1528.1" y="1724.2" width="136.4" height="67.7" fill="#89f1ae" stroke="#6e6e6e" stroke-width="7.4" stroke-linejoin="round"/><rect x="1528.1" y="1842" width="136.4" height="68.4" fill="#a4a4a4" stroke="#6e6e6e" stroke-width="7.4" stroke-linejoin="round"/></g>
<g id="scalebar"><path d="M1456.3 2272.5V2186.2H1536.8V2270.2H1618.8V2186.2H1699.3V2270.2H1940.3V2186.2H2182.7V2272.5" fill="none" stroke="#000" stroke-width="7" stroke-linejoin="round"/><g font-family="'Liberation Serif',serif" font-size="83.3" text-anchor="middle" fill="#000"><text x="1457" y="2369.6">0</text><text x="1577" y="2369.6">4.5</text><text x="1699" y="2369.6">9</text><text x="1940" y="2369.6">18</text><text x="2181" y="2369.6">27</text></g><text x="2203" y="2273" font-family="'Liberation Serif',serif" font-size="80" fill="#000">km</text></g>
</svg>
</body></html>
